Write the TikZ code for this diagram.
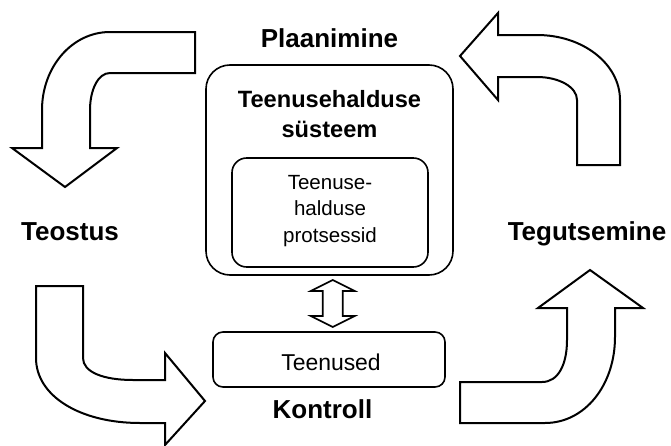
\documentclass[tikz,border=0pt]{standalone}
\usepackage{fontspec}
\setmainfont{Liberation Sans}
\usetikzlibrary{fit,calc}

\tikzset{
	bendarrow/.style={draw=black, line width=1.5pt, fill=white, line join=miter},
	roundbox/.style={draw=black, line width=1.2pt, inner sep=0pt},
	phase/.style={font=\fontsize{19.5}{23}\selectfont\bfseries, anchor=base},
	boxtitle/.style={font=\fontsize{17.7}{22.5}\selectfont\bfseries, align=center, anchor=base},
	boxtext/.style={font=\fontsize{15.4}{19.8}\selectfont, align=center, anchor=base}
}

\begin{document}
\begin{tikzpicture}[x=0.75pt,y=-0.75pt]
	\useasboundingbox (0,0) rectangle (671,446);
	% system boxes
	\node[roundbox, rounded corners=18pt, fit={(206,65) (453,275)}] (sys) {};
	\node[roundbox, rounded corners=11pt, fit={(232,158) (428,267)}] (proc) {};
	\node[roundbox, rounded corners=7.5pt, fit={(213,332) (445,387)}] (serv) {};
	% box texts (base = last line)
	\node[boxtitle] (systitle) at (329.5,137) {Teenusehalduse\\süsteem};
	\node[boxtext] (proctext) at (330,242) {Teenuse-\\halduse\\protsessid};
	\node[boxtext, font=\fontsize{17.2}{20}\selectfont] (servtext) at (331,370) {Teenused};
	% double arrow between system and services
	\begin{scope}[shift={($(sys.south)!0.5!(serv.north)$)}, xshift=2.6pt]
		\draw[bendarrow, line width=1.2pt] (0,-23.5) -- (22,-12.5) -- (10,-12.5) -- (10,12.5) -- (22,12.5) -- (0,23.5)
			-- (-22,12.5) -- (-10,12.5) -- (-10,-12.5) -- (-22,-12.5) -- cycle;
	\end{scope}
	% phase labels
	\node[phase] (plan) at (329.5,47) {Plaanimine};
	\node[phase] (do) at (70,240) {Teostus};
	\node[phase] (check) at (322.5,418) {Kontroll};
	\node[phase] (act) at (587,240) {Tegutsemine};
	% curved arrows
	\draw[bendarrow] (195,32) -- (110,32) .. controls (72,32) and (42,67) .. (42,110) -- (42,148) -- (12,148) -- (65,187)
		-- (117,148) -- (90,148) -- (90,110) .. controls (90,90) and (98,73) .. (110,73) -- (195,73) -- cycle;
	\draw[bendarrow] (36,286) -- (36,358) .. controls (36,396) and (80,423) .. (140,423) -- (165,423) -- (165,445)
		-- (205,401) -- (165,353) -- (165,380) -- (133,380) .. controls (103,380) and (83,372) .. (83,358) -- (83,286) -- cycle;
	\draw[bendarrow] (460,382) -- (542,382) .. controls (558,382) and (567,365) .. (567,340) -- (567,308) -- (538,308)
		-- (590,270) -- (643,308) -- (615,308) -- (615,337) .. controls (615,385) and (585,423) .. (545,423) -- (460,423) -- cycle;
	\draw[bendarrow] (577,165) -- (620,165) -- (620,100) .. controls (620,64) and (583,35) .. (537,35) -- (498,35)
		-- (498,13) -- (460,56) -- (498,100) -- (498,77) -- (537,77) .. controls (559,77) and (577,87) .. (577,100) -- cycle;
\end{tikzpicture}
\end{document}
